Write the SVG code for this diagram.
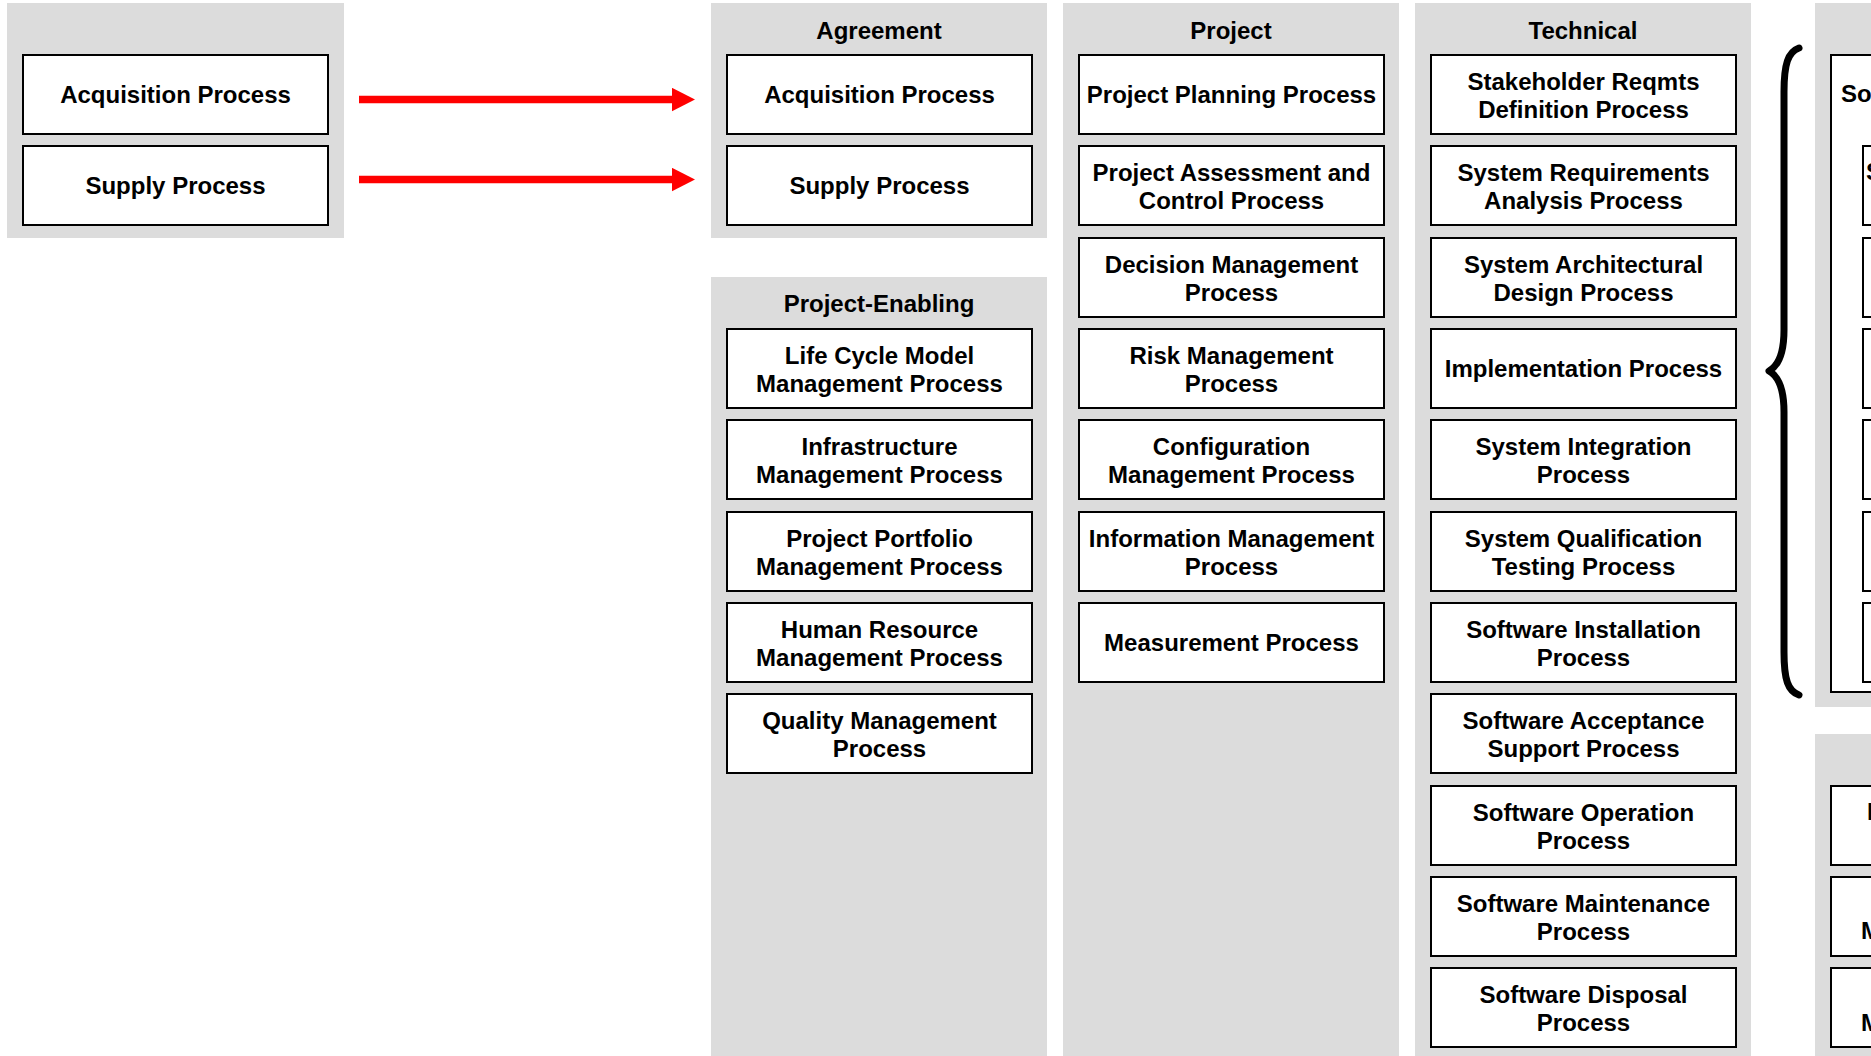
<svg xmlns="http://www.w3.org/2000/svg" width="1871" height="1056" viewBox="0 0 1871 1056">
<style>
.panel{fill:#dcdcdc}
.box{fill:#ffffff;stroke:#000000;stroke-width:2}
text{font-family:"Liberation Sans",Arial,sans-serif;font-weight:bold;font-size:24px;fill:#000000}
.c{text-anchor:middle}
.conn{stroke:#ff0000;stroke-width:7.5;fill:none}
</style>
<defs>
<marker id="ah" markerUnits="userSpaceOnUse" markerWidth="24" markerHeight="24" refX="0" refY="11.7" orient="auto">
<path d="M0,0 L23,11.7 L0,23.4 Z" fill="#ff0000"/>
</marker>
</defs>
<g id="panels">
<rect class="panel" x="7" y="3" width="337" height="235"/>
<rect class="panel" x="711" y="3" width="336" height="235"/>
<rect class="panel" x="711" y="277" width="336" height="779"/>
<rect class="panel" x="1063" y="3" width="336" height="1053"/>
<rect class="panel" x="1415" y="3" width="336" height="1053"/>
<rect class="panel" x="1815" y="3" width="70" height="704"/>
<rect class="panel" x="1815" y="734" width="70" height="322"/>
</g>
<g id="titles">
<text class="c" x="879" y="39">Agreement</text>
<text class="c" x="1231" y="39">Project</text>
<text class="c" x="1583" y="39">Technical</text>
<text class="c" x="879" y="312">Project-Enabling</text>
</g>
<g id="src-acq"><rect class="box" x="23" y="55" width="305" height="79"/><text class="c" x="175.5" y="103">Acquisition Process</text></g>
<g id="src-sup"><rect class="box" x="23" y="146" width="305" height="79"/><text class="c" x="175.5" y="194">Supply Process</text></g>
<g id="agr-acq"><rect class="box" x="727" y="55" width="305" height="79"/><text class="c" x="879.5" y="103">Acquisition Process</text></g>
<g id="agr-sup"><rect class="box" x="727" y="146" width="305" height="79"/><text class="c" x="879.5" y="194">Supply Process</text></g>
<g id="pe-lcm"><rect class="box" x="727" y="329" width="305" height="79"/><text class="c" x="879.5" y="363.5">Life Cycle Model</text><text class="c" x="879.5" y="391.5">Management Process</text></g>
<g id="pe-inf"><rect class="box" x="727" y="420" width="305" height="79"/><text class="c" x="879.5" y="454.5">Infrastructure</text><text class="c" x="879.5" y="482.5">Management Process</text></g>
<g id="pe-ppm"><rect class="box" x="727" y="512" width="305" height="79"/><text class="c" x="879.5" y="546.5">Project Portfolio</text><text class="c" x="879.5" y="574.5">Management Process</text></g>
<g id="pe-hr"><rect class="box" x="727" y="603" width="305" height="79"/><text class="c" x="879.5" y="637.5">Human Resource</text><text class="c" x="879.5" y="665.5">Management Process</text></g>
<g id="pe-qm"><rect class="box" x="727" y="694" width="305" height="79"/><text class="c" x="879.5" y="728.5">Quality Management</text><text class="c" x="879.5" y="756.5">Process</text></g>
<g id="pr-plan"><rect class="box" x="1079" y="55" width="305" height="79"/><text class="c" x="1231.5" y="103">Project Planning Process</text></g>
<g id="pr-ac"><rect class="box" x="1079" y="146" width="305" height="79"/><text class="c" x="1231.5" y="180.5">Project Assessment and</text><text class="c" x="1231.5" y="208.5">Control Process</text></g>
<g id="pr-dec"><rect class="box" x="1079" y="238" width="305" height="79"/><text class="c" x="1231.5" y="272.5">Decision Management</text><text class="c" x="1231.5" y="300.5">Process</text></g>
<g id="pr-risk"><rect class="box" x="1079" y="329" width="305" height="79"/><text class="c" x="1231.5" y="363.5">Risk Management</text><text class="c" x="1231.5" y="391.5">Process</text></g>
<g id="pr-cfg"><rect class="box" x="1079" y="420" width="305" height="79"/><text class="c" x="1231.5" y="454.5">Configuration</text><text class="c" x="1231.5" y="482.5">Management Process</text></g>
<g id="pr-info"><rect class="box" x="1079" y="512" width="305" height="79"/><text class="c" x="1231.5" y="546.5">Information Management</text><text class="c" x="1231.5" y="574.5">Process</text></g>
<g id="pr-meas"><rect class="box" x="1079" y="603" width="305" height="79"/><text class="c" x="1231.5" y="651">Measurement Process</text></g>
<g id="te-srd"><rect class="box" x="1431" y="55" width="305" height="79"/><text class="c" x="1583.5" y="89.5">Stakeholder Reqmts</text><text class="c" x="1583.5" y="117.5">Definition Process</text></g>
<g id="te-sra"><rect class="box" x="1431" y="146" width="305" height="79"/><text class="c" x="1583.5" y="180.5">System Requirements</text><text class="c" x="1583.5" y="208.5">Analysis Process</text></g>
<g id="te-sad"><rect class="box" x="1431" y="238" width="305" height="79"/><text class="c" x="1583.5" y="272.5">System Architectural</text><text class="c" x="1583.5" y="300.5">Design Process</text></g>
<g id="te-imp"><rect class="box" x="1431" y="329" width="305" height="79"/><text class="c" x="1583.5" y="377">Implementation Process</text></g>
<g id="te-sint"><rect class="box" x="1431" y="420" width="305" height="79"/><text class="c" x="1583.5" y="454.5">System Integration</text><text class="c" x="1583.5" y="482.5">Process</text></g>
<g id="te-sqt"><rect class="box" x="1431" y="512" width="305" height="79"/><text class="c" x="1583.5" y="546.5">System Qualification</text><text class="c" x="1583.5" y="574.5">Testing Process</text></g>
<g id="te-inst"><rect class="box" x="1431" y="603" width="305" height="79"/><text class="c" x="1583.5" y="637.5">Software Installation</text><text class="c" x="1583.5" y="665.5">Process</text></g>
<g id="te-acc"><rect class="box" x="1431" y="694" width="305" height="79"/><text class="c" x="1583.5" y="728.5">Software Acceptance</text><text class="c" x="1583.5" y="756.5">Support Process</text></g>
<g id="te-op"><rect class="box" x="1431" y="786" width="305" height="79"/><text class="c" x="1583.5" y="820.5">Software Operation</text><text class="c" x="1583.5" y="848.5">Process</text></g>
<g id="te-mnt"><rect class="box" x="1431" y="877" width="305" height="79"/><text class="c" x="1583.5" y="911.5">Software Maintenance</text><text class="c" x="1583.5" y="939.5">Process</text></g>
<g id="te-disp"><rect class="box" x="1431" y="968" width="305" height="79"/><text class="c" x="1583.5" y="1002.5">Software Disposal</text><text class="c" x="1583.5" y="1030.5">Process</text></g>
<g id="brace"><path d="M1799,48 C1788,52 1784,64 1784,92 L1784,330 C1784,355 1778,366 1769,371 C1778,376 1784,387 1784,412 L1784,652 C1784,680 1788,691 1799,695" fill="none" stroke="#000000" stroke-width="7" stroke-linecap="round" stroke-linejoin="round"/></g>
<g id="sw-impl"><rect class="box" x="1831" y="55" width="60" height="637"/><text x="1841" y="102">So</text></g>
<g id="sw-1"><rect class="box" x="1863" y="146" width="30" height="79"/><text x="1866" y="180">S</text></g>
<g id="sw-2"><rect class="box" x="1863" y="238" width="30" height="79"/></g>
<g id="sw-3"><rect class="box" x="1863" y="329" width="30" height="79"/></g>
<g id="sw-4"><rect class="box" x="1863" y="420" width="30" height="79"/></g>
<g id="sw-5"><rect class="box" x="1863" y="512" width="30" height="79"/></g>
<g id="sw-6"><rect class="box" x="1863" y="603" width="30" height="79"/></g>
<g id="lr-1"><rect class="box" x="1831" y="786" width="60" height="79"/><text x="1867" y="819.5">I</text></g>
<g id="lr-2"><rect class="box" x="1831" y="877" width="60" height="79"/><text x="1861" y="939">M</text></g>
<g id="lr-3"><rect class="box" x="1831" y="968" width="60" height="79"/><text x="1861" y="1030.5">M</text></g>
<g id="connectors">
<line class="conn" x1="359" y1="99.5" x2="672" y2="99.5" marker-end="url(#ah)"/>
<line class="conn" x1="359" y1="179.5" x2="672" y2="179.5" marker-end="url(#ah)"/>
</g>
</svg>
